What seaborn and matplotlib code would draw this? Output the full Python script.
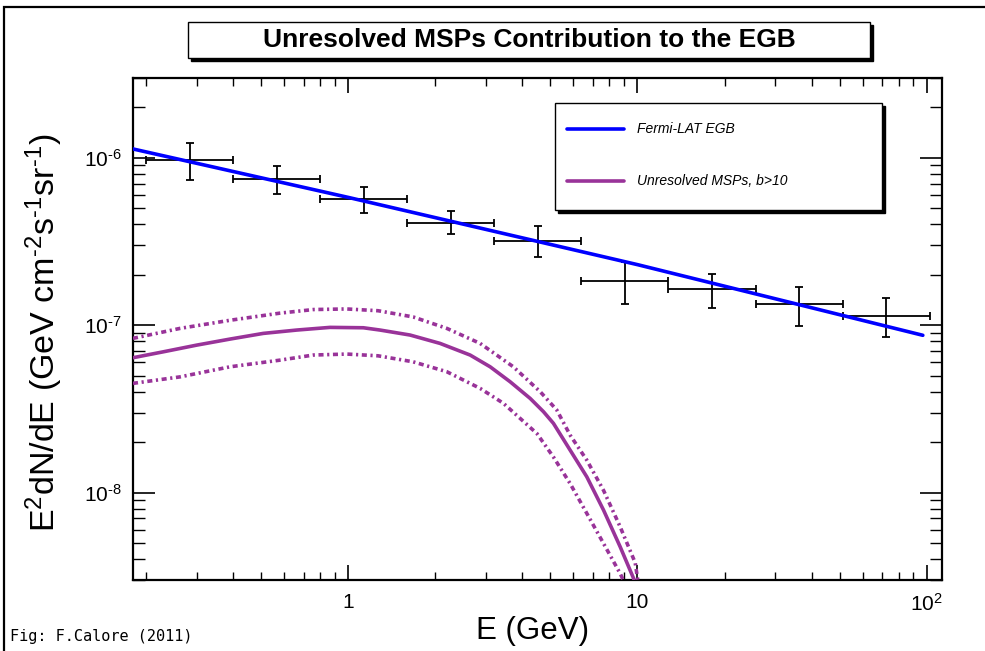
import numpy as np
import pandas as pd
import matplotlib
matplotlib.use("Agg")
import matplotlib.pyplot as plt
import seaborn as sns
from matplotlib.patches import Rectangle
from matplotlib.lines import Line2D
from matplotlib.ticker import FixedLocator, FixedFormatter, LogLocator, NullFormatter

# ---------------- data ----------------
bin_lo = [0.2, 0.4, 0.8, 1.6, 3.2, 6.4, 12.8, 25.6, 51.2]
bin_hi = [0.4, 0.8, 1.6, 3.2, 6.4, 12.8, 25.6, 51.2, 102.4]
e_center = [0.283, 0.566, 1.13, 2.26, 4.53, 9.05, 18.1, 36.2, 72.4]
flux = [9.7e-7, 7.5e-7, 5.7e-7, 4.1e-7, 3.2e-7, 1.84e-7, 1.64e-7, 1.33e-7, 1.14e-7]
flux_hi = [1.23e-6, 8.9e-7, 6.7e-7, 4.8e-7, 3.9e-7, 2.38e-7, 2.03e-7, 1.69e-7, 1.45e-7]
flux_lo = [7.4e-7, 6.1e-7, 4.7e-7, 3.5e-7, 2.56e-7, 1.34e-7, 1.26e-7, 9.9e-8, 8.5e-8]

egb_E = [0.18, 1.0, 10.0, 97.0]
egb_flux = [1.13e-6, 5.8e-7, 2.3e-7, 8.7e-8]

msp_E = [0.18, 0.229, 0.299, 0.390, 0.508, 0.663, 0.864, 1.127, 1.287, 1.635, 2.076,
         2.637, 3.093, 3.627, 4.254, 4.73, 5.12, 5.85, 6.68, 7.63, 8.71, 9.69, 9.9]
msp_mid = [6.39e-8, 6.93e-8, 7.60e-8, 8.26e-8, 8.93e-8, 9.35e-8, 9.70e-8, 9.65e-8,
           9.35e-8, 8.73e-8, 7.78e-8, 6.63e-8, 5.64e-8, 4.59e-8, 3.65e-8, 3.04e-8,
           2.59e-8, 1.79e-8, 1.24e-8, 7.85e-9, 4.74e-9, 3.07e-9, 2.6e-9]

msp_up_E = [0.18, 0.262, 0.390, 0.580, 0.757, 0.987, 1.267, 1.675, 2.19, 2.856, 3.72,
            4.61, 5.26, 5.85, 6.68, 7.63, 8.71, 9.82, 10.05]
msp_up = [8.34e-8, 9.57e-8, 1.07e-7, 1.18e-7, 1.24e-7, 1.25e-7, 1.22e-7, 1.12e-7,
          9.57e-8, 7.78e-8, 5.64e-8, 4.00e-8, 3.11e-8, 2.20e-8, 1.56e-8, 1.03e-8,
          6.24e-9, 3.8e-9, 2.9e-9]

msp_lo_E = [0.18, 0.262, 0.390, 0.580, 0.757, 0.987, 1.267, 1.675, 2.19, 2.856, 3.44,
            3.93, 4.49, 5.12, 5.85, 6.68, 7.63, 8.71, 9.1]
msp_lo = [4.49e-8, 4.91e-8, 5.64e-8, 6.18e-8, 6.63e-8, 6.72e-8, 6.56e-8, 6.04e-8,
          5.27e-8, 4.19e-8, 3.41e-8, 2.77e-8, 2.25e-8, 1.63e-8, 1.13e-8, 7.50e-9,
          4.96e-9, 3.28e-9, 2.8e-9]

x_major = [1, 10, 100]
x_major_labels = ["1", "10", "$10^{2}$"]
y_major = [1e-8, 1e-7, 1e-6]
y_major_labels = ["$10^{\u20108}$", "$10^{\u20107}$", "$10^{\u20106}$"]

title = "Unresolved MSPs Contribution to the EGB"
legend_labels = ["Fermi-LAT EGB", "Unresolved MSPs, b>10"]
xlabel = "E (GeV)"
ylabel = "E$^{2}$dN/dE (GeV cm$^{\u20102}$s$^{\u20101}$sr$^{\u20101}$)"
caption = "Fig: F.Calore (2011)"

BLUE = "#0000ff"
PURPLE = "#993399"

# ---------------- style ----------------
sns.set_theme(style="white")
plt.rcParams["font.family"] = ["Liberation Sans", "DejaVu Sans"]
plt.rcParams["mathtext.fontset"] = "custom"
plt.rcParams["mathtext.rm"] = "Liberation Sans"
plt.rcParams["mathtext.it"] = "Liberation Sans:italic"
plt.rcParams["mathtext.bf"] = "Liberation Sans:bold"
plt.rcParams["text.color"] = "black"
plt.rcParams["axes.labelcolor"] = "black"
plt.rcParams["xtick.color"] = "black"
plt.rcParams["ytick.color"] = "black"

W, H = 985, 651
fig = plt.figure(figsize=(W / 100, H / 100), dpi=100)
fig.patch.set_facecolor("white")

def fx(px):
    return px / W

def fy(py):
    return 1 - py / H

ax = fig.add_axes([fx(133), fy(580), fx(942) - fx(133), fy(78) - fy(580)])
ax.set_facecolor("white")
ax.set_xscale("log")
ax.set_yscale("log")

# data points with error bars
ax.errorbar(e_center, flux,
            xerr=[np.array(e_center) - np.array(bin_lo), np.array(bin_hi) - np.array(e_center)],
            yerr=[np.array(flux) - np.array(flux_lo), np.array(flux_hi) - np.array(flux)],
            fmt="none", ecolor="black", elinewidth=1.3, capsize=3, capthick=1.3, zorder=2)

egb_df = pd.DataFrame({"E": egb_E, "flux": egb_flux})
sns.lineplot(data=egb_df, x="E", y="flux", ax=ax, color=BLUE, lw=2.6, zorder=3)

mid_df = pd.DataFrame({"E": msp_E, "flux": msp_mid})
up_df = pd.DataFrame({"E": msp_up_E, "flux": msp_up})
lo_df = pd.DataFrame({"E": msp_lo_E, "flux": msp_lo})
sns.lineplot(data=mid_df, x="E", y="flux", ax=ax, color=PURPLE, lw=2.6, zorder=3)
for d in (up_df, lo_df):
    sns.lineplot(data=d, x="E", y="flux", ax=ax, color=PURPLE, lw=2.6,
                 linestyle=(0, (1.4, 1.0, 0.6, 1.0)), zorder=3)

ax.set_xlim(0.18, 113)
ax.set_ylim(3e-9, 3e-6)

ax.xaxis.set_major_locator(FixedLocator(x_major))
ax.xaxis.set_major_formatter(FixedFormatter(x_major_labels))
ax.xaxis.set_minor_locator(LogLocator(base=10, subs=np.arange(2, 10)))
ax.xaxis.set_minor_formatter(NullFormatter())
ax.yaxis.set_major_locator(FixedLocator(y_major))
ax.yaxis.set_major_formatter(FixedFormatter(y_major_labels))
ax.yaxis.set_minor_locator(LogLocator(base=10, subs=np.arange(2, 10)))
ax.yaxis.set_minor_formatter(NullFormatter())

ax.tick_params(axis="x", which="major", direction="in", top=True, bottom=True,
               length=11, width=1.2, labelsize=15, pad=9, colors="black")
ax.tick_params(axis="x", which="minor", direction="in", top=True, bottom=True,
               length=5.5, width=1.0)
ax.tick_params(axis="y", which="major", direction="in", left=True, right=True,
               length=16, width=1.2, labelsize=15, pad=8, colors="black")
ax.tick_params(axis="y", which="minor", direction="in", left=True, right=True,
               length=8.5, width=1.0)
for s in ax.spines.values():
    s.set_visible(True)
    s.set_color("black")
    s.set_linewidth(1.6)

ax.set_xlabel("")
ax.set_ylabel("")
fig.text(fx(533), fy(631), xlabel, ha="center", va="center", fontsize=22.5)
fig.text(fx(44), fy(333), ylabel, ha="center", va="center", rotation=90, fontsize=24.5)

# outer frame
fig.add_artist(Rectangle((fx(4), -0.2), 1.5, fy(7) + 0.2, transform=fig.transFigure,
                         fill=False, edgecolor="black", lw=1.6))

# title box with shadow
tx0, tx1, ty0, ty1 = 188, 870, 22, 58
fig.add_artist(Rectangle((fx(tx0 + 3), fy(ty1 + 3)), fx(tx1) - fx(tx0), fy(ty0) - fy(ty1),
                         transform=fig.transFigure, facecolor="black", edgecolor="black", lw=1))
fig.add_artist(Rectangle((fx(tx0), fy(ty1)), fx(tx1) - fx(tx0), fy(ty0) - fy(ty1),
                         transform=fig.transFigure, facecolor="white", edgecolor="black", lw=1))
fig.text(fx((tx0 + tx1) / 2), fy(40), title, ha="center", va="center",
         fontsize=19, fontweight="bold", color="black")

# legend box with shadow
lx0, lx1, ly0, ly1 = 555, 882, 103, 210
fig.add_artist(Rectangle((fx(lx0 + 3), fy(ly1 + 3)), fx(lx1) - fx(lx0), fy(ly0) - fy(ly1),
                         transform=fig.transFigure, facecolor="black", edgecolor="black", lw=1, zorder=5))
fig.add_artist(Rectangle((fx(lx0), fy(ly1)), fx(lx1) - fx(lx0), fy(ly0) - fy(ly1),
                         transform=fig.transFigure, facecolor="white", edgecolor="black", lw=1, zorder=6))
for yy, col, lab in zip([129, 181], [BLUE, PURPLE], legend_labels):
    fig.add_artist(Line2D([fx(567), fx(624)], [fy(yy), fy(yy)], transform=fig.transFigure,
                          color=col, lw=2.6, zorder=7))
    fig.text(fx(637), fy(yy), lab, ha="left", va="center", fontsize=10,
             style="italic", zorder=7, color="black")

fig.text(fx(10), fy(637), caption, ha="left", va="center", fontsize=11,
         family="DejaVu Sans Mono", color="black")

fig.savefig("out.png", dpi=100)
